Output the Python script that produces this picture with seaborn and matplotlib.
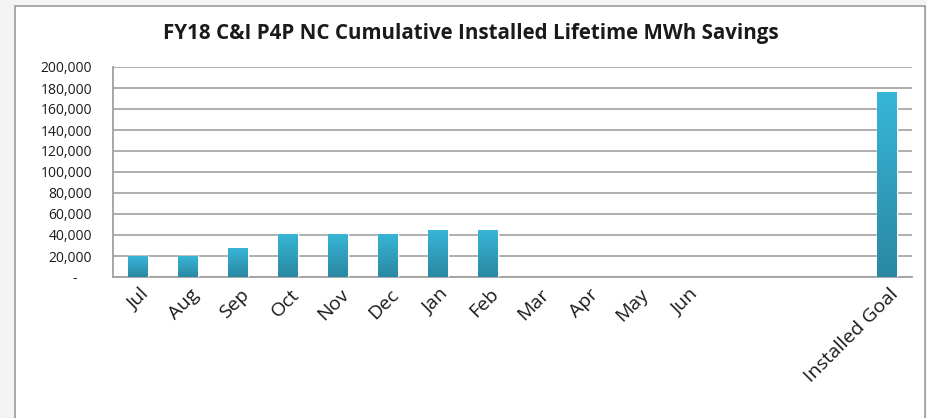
import numpy as np
import pandas as pd
import matplotlib
matplotlib.use("Agg")
import matplotlib.pyplot as plt
from matplotlib.patches import Rectangle
from matplotlib.colors import LinearSegmentedColormap
from matplotlib.ticker import FuncFormatter, FixedLocator
import seaborn as sns

TITLE = "FY18 C&I P4P NC Cumulative Installed Lifetime MWh Savings"

# categories (16 slots: 12 months, 3 empty slots, goal)
slots = ["Jul", "Aug", "Sep", "Oct", "Nov", "Dec", "Jan", "Feb", "Mar", "Apr", "May", "Jun",
         "_e1", "_e2", "_e3", "Installed Goal"]
tick_labels = ["Jul", "Aug", "Sep", "Oct", "Nov", "Dec", "Jan", "Feb", "Mar", "Apr", "May", "Jun",
               "", "", "", "Installed Goal"]
savings = [19800, 19800, 27900, 41200, 41200, 41200, 44800, 44800,
           np.nan, np.nan, np.nan, np.nan, np.nan, np.nan, np.nan, 176500]
yticks = [0, 20000, 40000, 60000, 80000, 100000, 120000, 140000, 160000, 180000, 200000]

df = pd.DataFrame({"slot": slots, "mwh": savings})

sns.set_theme(style="white")
plt.rcParams["font.family"] = ["Open Sans", "DejaVu Sans"]

fig = plt.figure(figsize=(9.28, 4.18), dpi=100)
fig.patch.set_facecolor("#f4f4f4")
# white chart panel with thin grey frame on left / top
fig.patches.append(Rectangle((15 / 928, -0.02), 910 / 928, 1.02 - 6 / 418,
                             transform=fig.transFigure, facecolor="white",
                             edgecolor="#9a9a9a", linewidth=1.2, zorder=-5))

ax = fig.add_axes([113 / 928, 1 - 277 / 418, (912 - 113) / 928, (277 - 67) / 418])
ax.set_facecolor("none")

sns.barplot(data=df, x="slot", y="mwh", order=slots, color="#31a3c4",
            width=0.4, ax=ax, errorbar=None, zorder=3)

# vertical gradient on each bar
cmap = LinearSegmentedColormap.from_list("bar", ["#2a88a2", "#38b6d8"])
grad = np.linspace(0, 1, 256).reshape(-1, 1)
for p in list(ax.patches):
    x0, y0 = p.get_x(), p.get_y()
    w, h = p.get_width(), p.get_height()
    if not np.isfinite(h) or h <= 0:
        continue
    im = ax.imshow(grad, cmap=cmap, origin="lower", aspect="auto",
                   extent=[x0, x0 + w, y0, y0 + h], zorder=4)
    im.set_clip_path(p)
ax.set_xlim(-0.5, len(slots) - 0.5)
ax.set_ylim(0, 200000)

ax.set_yticks(yticks)
ax.yaxis.set_major_formatter(FuncFormatter(lambda v, _: "-    " if v == 0 else f"{int(v):,}"))
ax.yaxis.grid(True, color="#a8a8a8", linewidth=1.3, zorder=1)
ax.set_axisbelow(True)

ax.set_xticks(range(len(slots)))
ax.set_xticklabels(tick_labels, rotation=45, ha="right", rotation_mode="anchor")
ax.tick_params(axis="x", which="major", length=0, pad=6, labelsize=14, colors="#1a1a1a")
ax.xaxis.set_minor_locator(FixedLocator(np.arange(-0.5, len(slots), 1.0)))
ax.tick_params(axis="x", which="minor", length=6, width=1.2, color="#a0a0a0", direction="out")
ax.tick_params(axis="y", length=6, width=1.2, color="#a0a0a0", direction="out",
               labelsize=10, colors="#1a1a1a", pad=9)
for lab in ax.get_xticklabels():
    lab.set_transform(lab.get_transform() + matplotlib.transforms.ScaledTranslation(2 / 100, 0, fig.dpi_scale_trans))

for s in ["top", "right"]:
    ax.spines[s].set_visible(False)
for s in ["left", "bottom"]:
    ax.spines[s].set_color("#a0a0a0")
    ax.spines[s].set_linewidth(1.3)
ax.set_xlabel("")
ax.set_ylabel("")

fig.text(471 / 928, 1 - 33 / 418, TITLE, ha="center", va="center",
         fontsize=14.8, fontweight="bold", color="#1a1a1a")

fig.savefig("out.png", dpi=100, facecolor=fig.get_facecolor())
